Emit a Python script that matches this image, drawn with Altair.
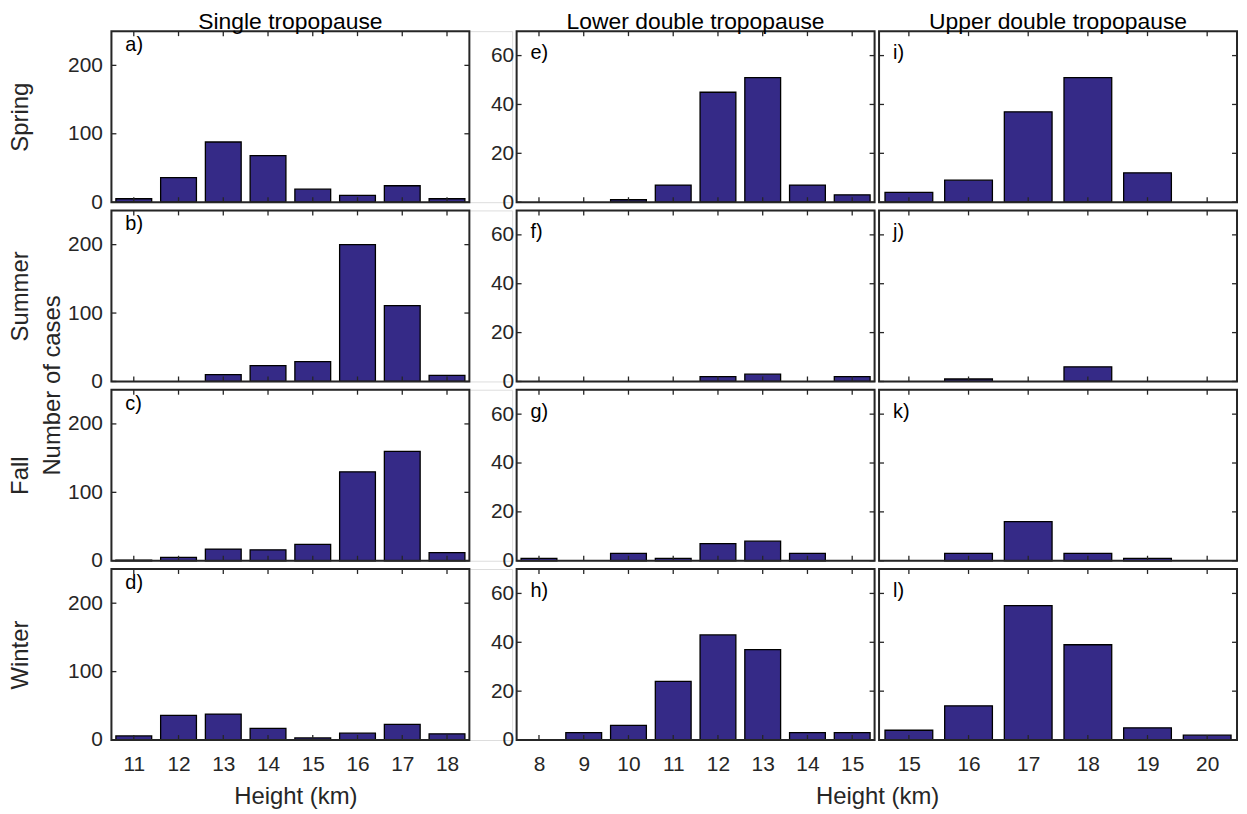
import altair as alt
import pandas as pd

# ---------------- data ----------------
single_heights = [11, 12, 13, 14, 15, 16, 17, 18]
lower_heights = [8, 9, 10, 11, 12, 13, 14, 15]
upper_heights = [15, 16, 17, 18, 19, 20]

single_spring = [5, 36, 88, 68, 19, 10, 24, 5]
single_summer = [0, 0, 10, 23, 29, 200, 111, 9]
single_fall = [1, 5, 17, 16, 24, 130, 160, 12]
single_winter = [6, 36, 38, 17, 3, 10, 23, 9]

lower_spring = [0, 0, 1, 7, 45, 51, 7, 3]
lower_summer = [0, 0, 0, 0, 2, 3, 0, 2]
lower_fall = [1, 0, 3, 1, 7, 8, 3, 0]
lower_winter = [0, 3, 6, 24, 43, 37, 3, 3]

upper_spring = [4, 9, 37, 51, 12, 0]
upper_summer = [0, 1, 0, 6, 0, 0]
upper_fall = [0, 3, 16, 3, 1, 0]
upper_winter = [4, 14, 55, 39, 5, 2]

seasons = ["Spring", "Summer", "Fall", "Winter"]
column_titles = ["Single tropopause", "Lower double tropopause", "Upper double tropopause"]
letters = [["a)", "b)", "c)", "d)"], ["e)", "f)", "g)", "h)"], ["i)", "j)", "k)", "l)"]]

single_yticks = [0, 100, 200]
double_yticks = [0, 20, 40, 60]

# ---------------- style ----------------
FONT = "Liberation Sans"
AX = "#262626"
BAR = "#352A87"
W = 360          # plot width of every panel
H = 172          # plot height of every panel
TICK = 5


def panel(heights, counts, xdom, ydom, yticks, cell_w, letter, letter_y,
          show_x, show_y, ytitle=None, xtitle=None, xtitle_x=None,
          title=None, ylabel_pad=9, extra=None):
    df = pd.DataFrame({"h": heights, "n": counts})
    xscale = alt.Scale(domain=xdom, nice=False, zero=False, range=[0, W])
    yscale = alt.Scale(domain=ydom, nice=False)

    if show_x:
        xaxis_kw = dict(values=heights, format="d", domain=False, ticks=False, tickSize=0,
                        grid=False, labelPadding=14, labelFlush=False, labelOverlap=False,
                        labelFontSize=21, labelFont=FONT, labelColor=AX)
        if xtitle:
            xaxis_kw.update(title=xtitle, titleFontSize=24, titleFont=FONT,
                            titleFontWeight="normal", titleColor=AX, titlePadding=10)
            if xtitle_x is not None:
                xaxis_kw.update(titleX=xtitle_x, titleAlign="center")
        else:
            xaxis_kw.update(title=None)
        xaxis = alt.Axis(**xaxis_kw)
    else:
        xaxis = None

    if show_y:
        yaxis_kw = dict(values=yticks, format="d", domain=False, ticks=False, tickSize=0,
                        grid=False, labelPadding=ylabel_pad, labelFlush=False,
                        labelOverlap=False, labelFontSize=21, labelFont=FONT,
                        labelColor=AX)
        if ytitle:
            yaxis_kw.update(title=ytitle, titleFontSize=24, titleFont=FONT,
                            titleFontWeight="normal", titleColor=AX, titlePadding=35)
        else:
            yaxis_kw.update(title=None)
        yaxis = alt.Axis(**yaxis_kw)
    else:
        yaxis = None

    X = alt.X("x0:Q", scale=xscale, axis=xaxis)
    Y = alt.Y("n:Q", scale=yscale, axis=yaxis)

    bars = alt.Chart(df).transform_filter("datum.n > 0").transform_calculate(
        x0="datum.h - 0.4", x1="datum.h + 0.4"
    ).mark_bar(fill=BAR, stroke="#000000", strokeWidth=1.3).encode(
        x=X, x2="x1:Q", y=Y, y2=alt.datum(0)
    )

    xt = pd.DataFrame({"x0": heights})
    yt = pd.DataFrame({"n": yticks})
    rule_kw = dict(color=AX, strokeWidth=1.3)
    xb = alt.Chart(xt).mark_rule(**rule_kw).encode(x=X, y=alt.value(H), y2=alt.value(H - TICK))
    xtp = alt.Chart(xt).mark_rule(**rule_kw).encode(x=X, y=alt.value(0), y2=alt.value(TICK))
    yl = alt.Chart(yt).mark_rule(**rule_kw).encode(y=Y, x=alt.value(0), x2=alt.value(TICK))
    yr = alt.Chart(yt).mark_rule(**rule_kw).encode(y=Y, x=alt.value(W - TICK), x2=alt.value(W))

    frame_df = pd.DataFrame({"x0": [xdom[0]], "x1": [xdom[1]], "n": [ydom[0]], "n2": [ydom[1]]})
    frame = alt.Chart(frame_df).mark_rect(
        fillOpacity=0, stroke=AX, strokeWidth=2
    ).encode(x=X, x2="x1:Q", y=Y, y2="n2:Q")

    lab = alt.Chart(pd.DataFrame({"lab": [letter]})).mark_text(
        align="left", baseline="middle", fontSize=20, font=FONT, color="#000000"
    ).encode(x=alt.value(14), y=alt.value(letter_y), text="lab:N")

    layers = [bars, xb, xtp, yl, yr, frame, lab]
    if extra is not None:
        layers.append(extra)
    ch = alt.layer(*layers).properties(width=cell_w, height=H)
    if title:
        ch = ch.properties(title=alt.TitleParams(
            text=title, fontSize=23, font=FONT, fontWeight="normal",
            color="#000000", anchor="middle", frame="group",
            dx=(W - cell_w) / 2, offset=-4))
    return ch


single_data = [single_spring, single_summer, single_fall, single_winter]
lower_data = [lower_spring, lower_summer, lower_fall, lower_winter]
upper_data = [upper_spring, upper_summer, upper_fall, upper_winter]

ncases = alt.Chart(pd.DataFrame({"lab": ["Number of cases"]})).mark_text(
    align="center", baseline="middle", angle=270, fontSize=24, font=FONT, color=AX
).encode(x=alt.value(-59), y=alt.value(H + 4), text="lab:N")

panels = []
for i in range(4):
    panels.append(panel(single_heights, single_data[i], [10.5, 18.5], [0, 250],
                        single_yticks, W + 43, letters[0][i], 14, show_x=(i == 3),
                        show_y=True, ytitle=seasons[i],
                        xtitle="Height (km)" if i == 3 else None, xtitle_x=W / 2 + 5,
                        title=column_titles[0] if i == 0 else None,
                        extra=ncases if i == 1 else None))
    panels.append(panel(lower_heights, lower_data[i], [7.5, 15.5], [0, 70],
                        double_yticks, W, letters[1][i], 22, show_x=(i == 3), show_y=True,
                        xtitle="Height (km)" if i == 3 else None, xtitle_x=W + 2.5,
                        title=column_titles[1] if i == 0 else None, ylabel_pad=3))
    panels.append(panel(upper_heights, upper_data[i], [14.5, 20.5], [0, 70],
                        double_yticks, W, letters[2][i], 22, show_x=(i == 3), show_y=False,
                        title=column_titles[2] if i == 0 else None))

chart = alt.concat(
    *panels, columns=3, spacing={"row": 8.3, "column": 4.5}, bounds="flush", align="each"
).properties(
    padding={"left": 0, "top": 0, "right": 0, "bottom": 0}
).configure_view(strokeWidth=0).configure(background="white")

chart.save("out.html", embed_options={"renderer": "svg", "actions": False})
